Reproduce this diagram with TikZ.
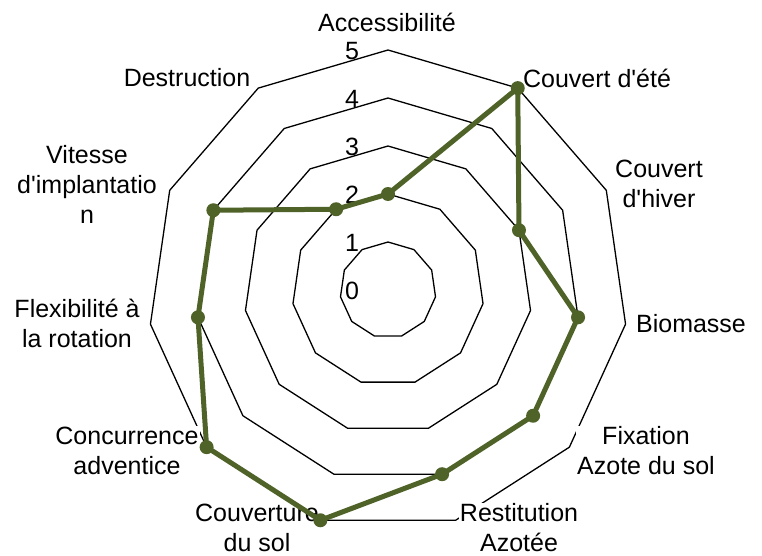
\documentclass[tikz,border=0pt]{standalone}
\usepackage{fontspec}
\setmainfont{Liberation Sans}
\definecolor{olivedata}{RGB}{79,98,40}
\begin{document}
\begin{tikzpicture}[x=1pt,y=-1pt,
  gridline/.style={draw=black,line width=1.3pt,line join=miter},
  lbl/.style={font=\fontsize{25}{30}\selectfont,align=center,fill=white,inner sep=1pt},
  ticklbl/.style={font=\fontsize{25}{30}\selectfont,inner sep=0pt},
  series/.style={draw=olivedata,line width=5pt,line join=round},
  dot/.style={circle,fill=olivedata,inner sep=0pt,minimum size=14pt}]
\useasboundingbox[fill=white] (0,0) rectangle (762,556);
\def\cx{388}\def\cy{290}\def\st{48}
% grid polygons
\foreach \l in {1,...,5}{
  \draw[gridline] ({\cx},{\cy-\l*\st})
    \foreach \k in {1,...,10}{ -- ({\cx+\l*\st*sin(\k*360/11)},{\cy-\l*\st*cos(\k*360/11)}) } -- cycle;
}
% tick labels
\foreach \l in {0,...,5}{
  \node[ticklbl] (t\l) at (352,{\cy-\l*\st+1}) {\l};
}
% category labels
\node[lbl] (c0) at (387,22) {Accessibilité};
\node[lbl] (c1) at (597,78) {Couvert d\textquotesingle été};
\node[lbl] (c2) at (659,184) {Couvert\\d\textquotesingle hiver};
\node[lbl] (c3) at (691,324) {Biomasse};
\node[lbl] (c4) at (646,451) {Fixation\\Azote du sol};
\node[lbl] (c5) at (519,528) {Restitution\\Azotée};
\node[lbl] (c6) at (257,528) {Couverture\\du sol};
\node[lbl] (c7) at (127,451) {Concurrence\\adventice};
\node[lbl] (c8) at (77,323) {Flexibilité à\\la rotation};
\node[lbl] (c9) at (87,184) {Vitesse\\d\textquotesingle implantatio\\n};
\node[lbl] (c10) at (187,78) {Destruction};
% data
\foreach \v [count=\i from 0] in {2,5,3,4,4,4,5,5,4,4,2}{
  \coordinate (d\i) at ({\cx+\v*\st*sin(\i*360/11)},{\cy-\v*\st*cos(\i*360/11)});
}
\draw[series] (d0) -- (d1) -- (d2) -- (d3) -- (d4) -- (d5) -- (d6) -- (d7) -- (d8) -- (d9) -- (d10) -- cycle;
\foreach \i in {0,...,10}{
  \node[dot] (m\i) at (d\i) {};
}
\end{tikzpicture}
\end{document}
